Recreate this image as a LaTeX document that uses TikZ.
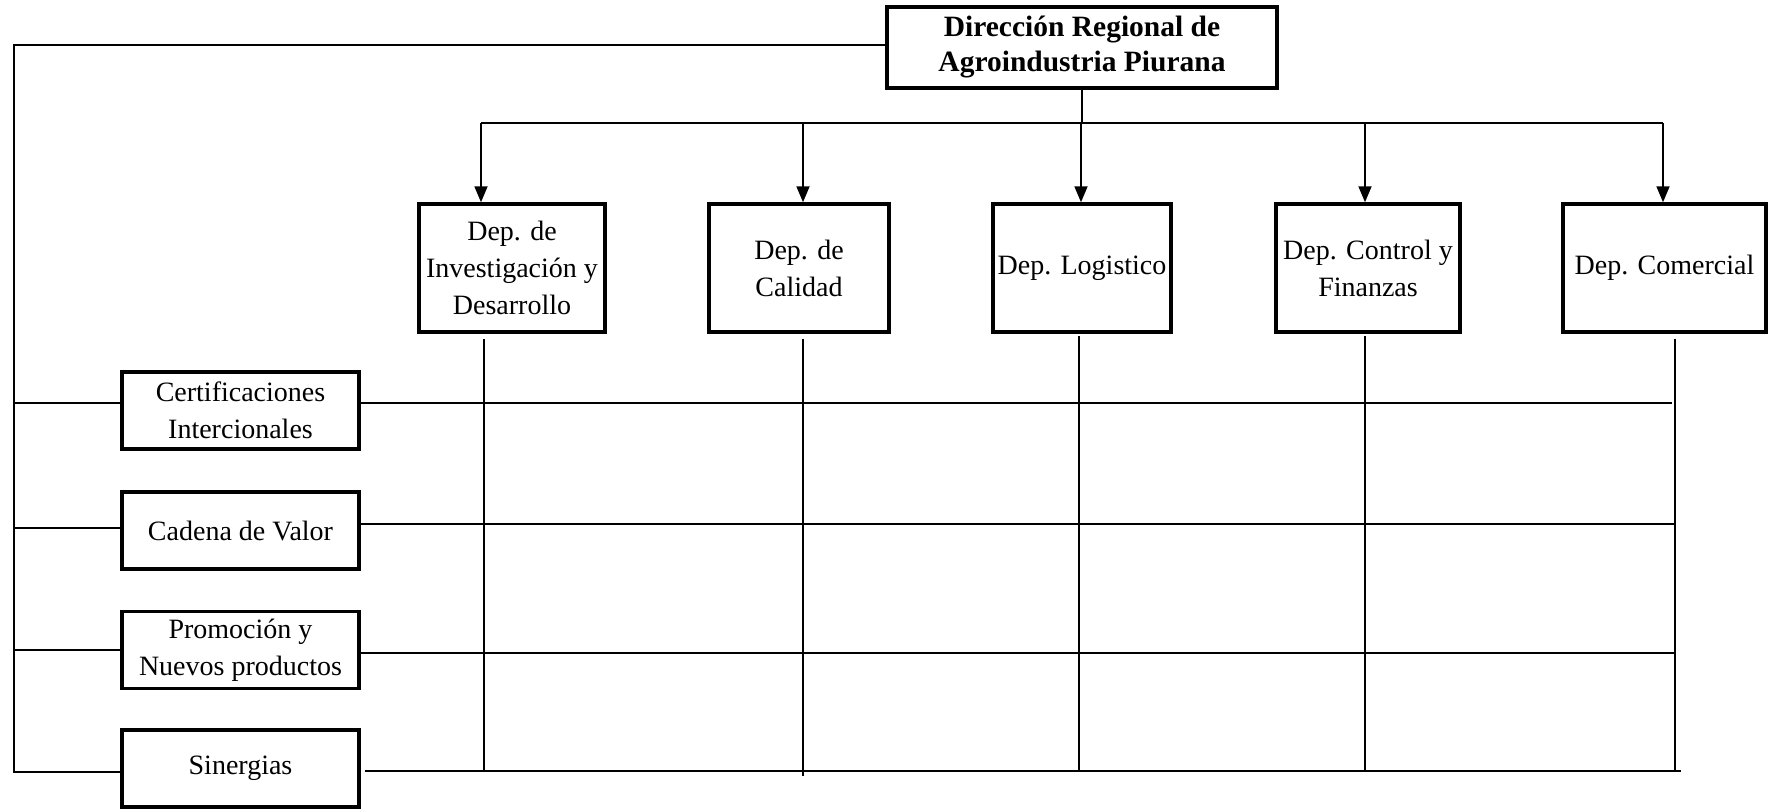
\documentclass[tikz,border=0pt]{standalone}
\usepackage{fontspec}
\setmainfont{Liberation Serif}
\usetikzlibrary{arrows.meta,calc}
\begin{document}
\begin{tikzpicture}[x=1pt,y=-1pt,
  box/.style={draw, line width=3.5pt, inner sep=0pt, align=center, font=\fontsize{28}{37}\selectfont},
  deptbox/.style={box, minimum height=128pt},
  sidebox/.style={box, minimum width=237pt, minimum height=77pt},
  conn/.style={line width=1.8pt},
  arr/.style={conn, -{Triangle[length=16pt,width=13pt]}}]
\useasboundingbox (0,0) rectangle (1769,809);

% top box
\node[box, font=\bfseries\fontsize{29.5}{35}\selectfont, minimum width=390pt, minimum height=81pt] (top) at (1082,47.5) {Dirección Regional de\\Agroindustria Piurana};

% department boxes
\node[deptbox, minimum width=186pt] (d1) at (512,268) {Dep. de\\Investigación y\\Desarrollo};
\node[deptbox, minimum width=180pt] (d2) at (799,268) {Dep. de\\Calidad};
\node[deptbox, minimum width=178pt] (d3) at (1082,268) {Dep. Logistico};
\node[deptbox, minimum width=184pt] (d4) at (1368,268) {Dep. Control y\\Finanzas};
\node[deptbox, minimum width=203pt] (d5) at (1664.5,268) {Dep. Comercial};

% side boxes
\node[sidebox] (c1) at (240.5,410.5) {Certificaciones\\Intercionales};
\node[sidebox] (c2) at (240.5,530.5) {Cadena de Valor};
\node[sidebox] (c3) at (240.5,650) {Promoción y\\Nuevos productos};
\node[sidebox] (c4) at (240.5,768.5) {Sinergias};

% bus with arrows
\coordinate (a1) at (481,123);
\coordinate (a2) at (803,123);
\coordinate (a3) at (1081,123);
\coordinate (a4) at (1365,123);
\coordinate (a5) at (1663,123);
\draw[conn] (top.south) -- (top.south |- a3);
\draw[conn] (a1) -- (a5);
\draw[arr] (a1) -- (a1 |- d1.north);
\draw[arr] (a2) -- (a2 |- d2.north);
\draw[arr] (a3) -- (a3 |- d3.north);
\draw[arr] (a4) -- (a4 |- d4.north);
\draw[arr] (a5) -- (a5 |- d5.north);

% left spine
\coordinate (t0) at (14,45);
\coordinate (l1) at (14,403);
\coordinate (l2) at (14,528);
\coordinate (l3) at (14,650);
\coordinate (l4) at (14,772);
\draw[conn] (top.west |- t0) -- (t0) -- (l4) -- (c4.west |- l4);
\draw[conn] (l1) -- (c1.west |- l1);
\draw[conn] (l2) -- (c2.west |- l2);
\draw[conn] (l3) -- (c3.west |- l3);

% right row lines
\coordinate (r1) at (1672,403);
\coordinate (r2) at (1675,524);
\coordinate (r3) at (1675,653);
\coordinate (r4) at (1681,771);
\draw[conn] (c1.east |- r1) -- (r1);
\draw[conn] (c2.east |- r2) -- (r2);
\draw[conn] (c3.east |- r3) -- (r3);
\draw[conn] ($(c4.east |- r4)+(4,0)$) -- (r4);

% department stems
\coordinate (s1) at (484,771);
\coordinate (s2) at (803,776);
\coordinate (s3) at (1079,771);
\coordinate (s4) at (1365,771);
\coordinate (s5) at (1675,771);
\draw[conn] ($(d1.south -| s1)+(0,5)$) -- (s1);
\draw[conn] ($(d2.south -| s2)+(0,5)$) -- (s2);
\draw[conn] ($(d3.south -| s3)+(0,2)$) -- (s3);
\draw[conn] ($(d4.south -| s4)+(0,2)$) -- (s4);
\draw[conn] ($(d5.south -| s5)+(0,5)$) -- (s5);
\end{tikzpicture}
\end{document}
